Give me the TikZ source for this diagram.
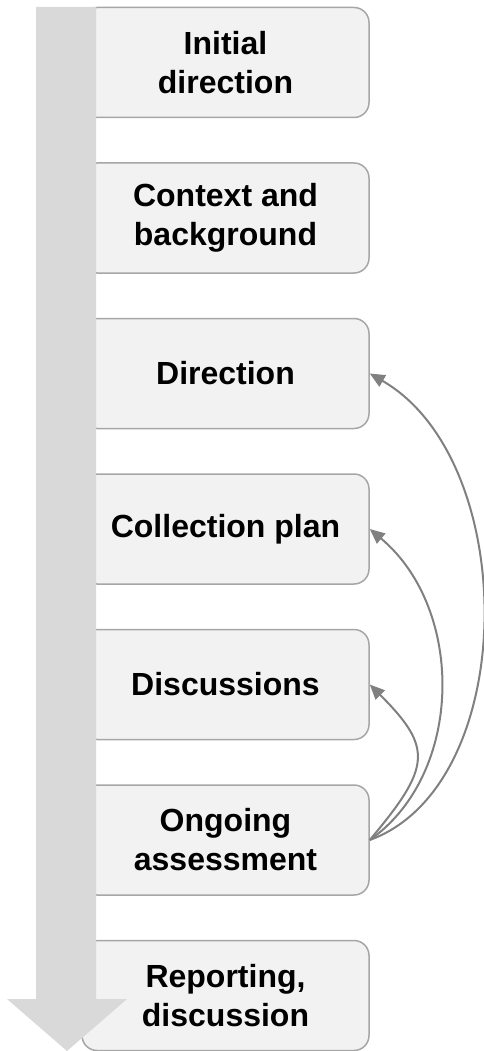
\documentclass[tikz,border=0pt]{standalone}
\usepackage{fontspec}
\setmainfont{Liberation Sans}
\usetikzlibrary{positioning,arrows.meta}

\definecolor{boxfill}{HTML}{F2F2F2}
\definecolor{boxline}{HTML}{A6A6A6}
\definecolor{shaft}{HTML}{D9D9D9}
\definecolor{backline}{HTML}{808080}

\tikzset{
  phase/.style={draw=boxline, fill=boxfill, line width=1.5pt, rounded corners=15pt,
    minimum width=287pt, minimum height=110pt, inner sep=0pt, align=center,
    font=\fontsize{32}{39}\selectfont\bfseries},
  back/.style={draw=backline, line width=2pt, -{Triangle[length=15pt,width=13pt]}},
}

\begin{document}
\begin{tikzpicture}[x=1pt, y=-1pt, node distance=44pt]
    \useasboundingbox (0,0) rectangle (484,1051);

    % stages
    \node[phase] (initial) at (225.5,62.5) {Initial\\direction};
    \node[phase, below=of initial] (context) {Context and\\background};
    \node[phase, below=of context] (direction) {Direction};
    \node[phase, below=of direction] (collection) {Collection plan};
    \node[phase, below=of collection] (discussions) {Discussions};
    \node[phase, below=of discussions] (ongoing) {Ongoing\\assessment};
    \node[phase, below=of ongoing] (reporting) {Reporting,\\discussion};

    % big time arrow
    \fill[shaft] (36,7) -- (96,7) -- (96,999) -- (127,999) -- (67,1051)
        -- (7,999) -- (36,999) -- cycle;

    % feedback loops (y points down, so angles are mirrored)
    \draw[back] (ongoing.east) .. controls +(-20:160) and +(30:175) .. (direction.east);
    \draw[back] (ongoing.east) .. controls +(-35:115) and +(40:125) .. (collection.east);
    \draw[back] (ongoing.east) .. controls +(-50:95) and +(45:90) .. (discussions.east);
\end{tikzpicture}
\end{document}
